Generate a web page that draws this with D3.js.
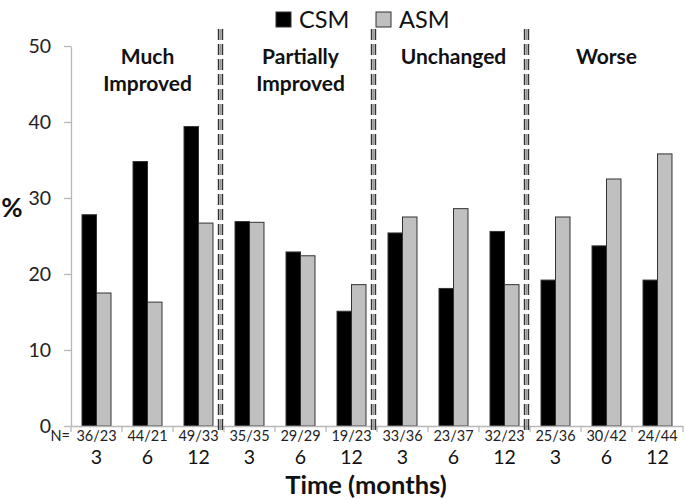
<!DOCTYPE html>
<html><head><meta charset="utf-8">
<script src="https://cdn.jsdelivr.net/npm/d3@7"></script>
<style>body{margin:0;background:#fff}svg{display:block;font-family:Lato,"Open Sans",sans-serif}</style>
</head><body><svg id="c" width="685" height="499"></svg>
<script>
const groups = ["Much|Improved","Partially|Improved","Unchanged","Worse"];
const months = ["3","6","12"];
const nLabels = ["36/23","44/21","49/33","35/35","29/29","19/23","33/36","23/37","32/23","25/36","30/42","24/44"];
const series = ["CSM","ASM"];
const csm = [27.8,34.8,39.4, 26.9,22.9,15.1, 25.4,18.1,25.6, 19.2,23.7,19.2];
const asm = [17.5,16.3,26.7, 26.8,22.4,18.6, 27.5,28.6,18.6, 27.5,32.5,35.8];
const yTicks = [0,10,20,30,40,50];

(function(){
const colors = {CSM:"#000000", ASM:"#c0c0c0"};
const svg = d3.select("#c");
const pLeft = 71, pRight = 683, pTop = 46, pBottom = 426;
const idx = d3.range(nLabels.length);
const x = d3.scaleBand().domain(idx).range([pLeft,pRight]).padding(0);
const xi = d3.scaleBand().domain(series).range([0,x.bandwidth()]).paddingInner(0).paddingOuter(0.76);
const y = d3.scaleLinear().domain([0,50]).range([pBottom,pTop]);

// y axis
const ya = svg.append("g").attr("transform",`translate(${pLeft},0)`)
  .call(d3.axisLeft(y).tickValues(yTicks).tickSize(7).tickPadding(13).tickSizeOuter(0));
ya.select(".domain").attr("stroke","#b8b8b8").attr("stroke-width",1.3);
ya.selectAll(".tick line").attr("stroke","#b8b8b8").attr("stroke-width",1.3);
ya.selectAll(".tick text").attr("font-size",19.5).attr("fill","#222").attr("font-family","Lato, sans-serif");

// bars
const data = idx.map(i=>({i, CSM:csm[i], ASM:asm[i]}));
const g = svg.append("g");
data.forEach(d=>{
  series.forEach(s=>{
    g.append("rect")
      .attr("x", x(d.i)+xi(s)).attr("width", xi.bandwidth())
      .attr("y", y(d[s])).attr("height", y(0)-y(d[s]))
      .attr("fill", colors[s]).attr("stroke","#333").attr("stroke-width",1);
  });
});

// x axis
const xa = svg.append("g").attr("transform",`translate(0,${pBottom})`)
  .call(d3.axisBottom(x).tickValues([]).tickSizeOuter(0));
xa.select(".domain").attr("stroke","#b8b8b8").attr("stroke-width",1.3);
svg.append("g").selectAll("line").data(d3.range(nLabels.length+1)).join("line")
  .attr("x1",i=>pLeft+i*x.step()).attr("x2",i=>pLeft+i*x.step())
  .attr("y1",pBottom).attr("y2",pBottom+6).attr("stroke","#b8b8b8").attr("stroke-width",1.3);

// N labels
svg.append("g").selectAll("text").data(idx).join("text")
  .attr("x",i=>x(i)+x.bandwidth()/2).attr("y",441)
  .attr("text-anchor","middle").attr("font-size",14.5).attr("fill","#222").text(i=>nLabels[i]);
svg.append("text").attr("x",70).attr("y",441).attr("text-anchor","end")
  .attr("font-size",14.5).attr("fill","#222").text("N=");
// months
svg.append("g").selectAll("text").data(idx).join("text")
  .attr("x",i=>x(i)+x.bandwidth()/2).attr("y",464)
  .attr("text-anchor","middle").attr("font-size",19.5).attr("fill","#111").text(i=>months[i%3]);
// axis titles
svg.append("text").attr("x",366).attr("y",494).attr("text-anchor","middle")
  .attr("font-size",25.5).attr("font-weight","bold").attr("fill","#111").text("Time (months)");
svg.append("text").attr("x",12).attr("y",217).attr("text-anchor","middle")
  .attr("font-size",26).attr("font-weight","bold").attr("fill","#111").text("%");

// dividers
[3,6,9].forEach(k=>{
  const xx = pLeft + k*x.step() - 3.5;
  const dg = svg.append("g");
  dg.append("line").attr("x1",xx).attr("x2",xx).attr("y1",29).attr("y2",434)
    .attr("stroke","#999").attr("stroke-width",2).attr("stroke-dasharray","11,4");
  [-2,2].forEach(o=>dg.append("line").attr("x1",xx+o).attr("x2",xx+o).attr("y1",29).attr("y2",434)
    .attr("stroke","#333").attr("stroke-width",1.4).attr("stroke-dasharray","11,4"));
});

// group titles
groups.forEach((gname,k)=>{
  const cx = x(k*3+1)+x.bandwidth()/2;
  gname.split("|").forEach((l,j)=>{
    svg.append("text").attr("x",cx).attr("y",64+j*27).attr("text-anchor","middle")
      .attr("font-size",21).attr("font-weight","bold").attr("fill","#111").text(l);
  });
});

// legend
[{s:"CSM",x:276},{s:"ASM",x:376}].forEach(l=>{
  svg.append("rect").attr("x",l.x).attr("y",12).attr("width",15).attr("height",15)
    .attr("fill",colors[l.s]).attr("stroke","#333").attr("stroke-width",1);
  svg.append("text").attr("x",l.x+23).attr("y",28).attr("font-size",23.5).attr("fill","#111").text(l.s);
});
})();
</script></body></html>
